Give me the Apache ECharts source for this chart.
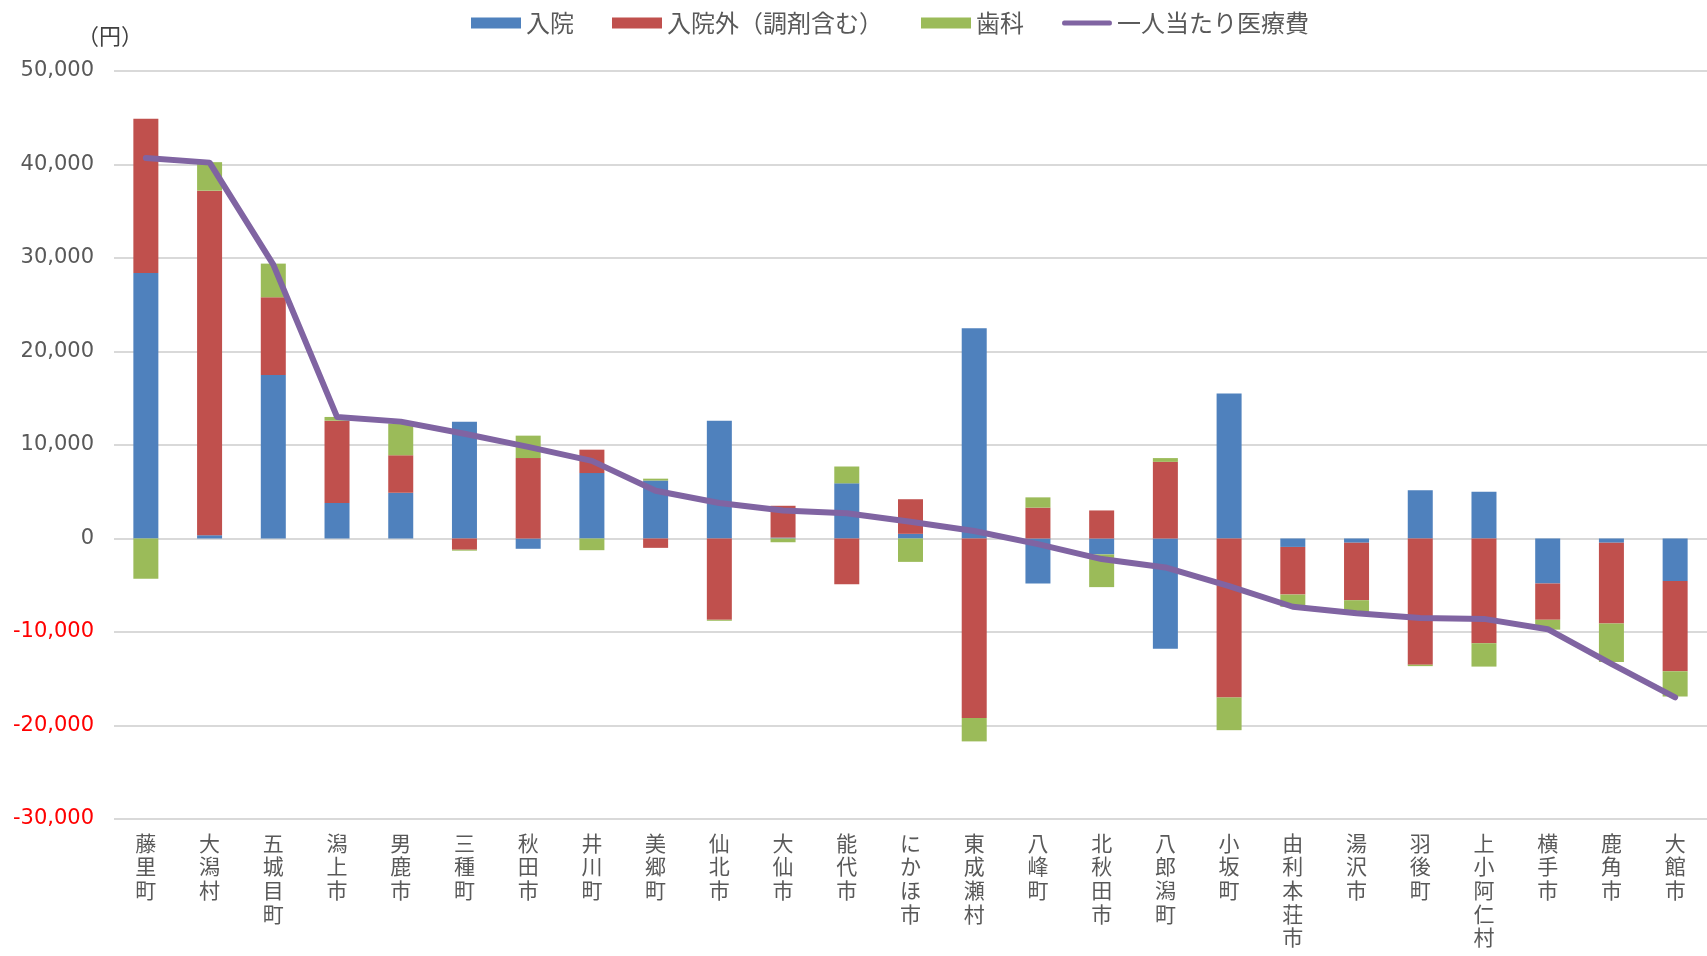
<!DOCTYPE html>
<html>
<head>
<meta charset="utf-8">
<script src="https://cdn.jsdelivr.net/npm/echarts@6/dist/echarts.min.js"></script>
<style>
html, body { margin: 0; padding: 0; background: #fff; }
#chart { width: 1707px; height: 956px; }
</style>
</head>
<body>
<div id="chart"></div>
<script>
// 市町村
const cities = ['藤里町', '大潟村', '五城目町', '潟上市', '男鹿市', '三種町', '秋田市', '井川町', '美郷町', '仙北市',
  '大仙市', '能代市', 'にかほ市', '東成瀬村', '八峰町', '北秋田市', '八郎潟町', '小坂町', '由利本荘市', '湯沢市',
  '羽後町', '上小阿仁村', '横手市', '鹿角市', '大館市']
// 入院
const inpatient = [28400, 350, 17500, 3800, 4900, 12500, -1100, 7000, 6200, 12600,
  100, 5900, 500, 22500, -4800, -1700, -11800, 15500, -900, -450,
  5150, 5000, -4800, -450, -4550]
// 入院外（調剤含む）
const outpatient = [16500, 36850, 8300, 8800, 4000, -1200, 8600, 2500, -1000, -8700,
  3400, -4900, 3700, -19200, 3300, 3000, 8200, -17000, -5100, -6150,
  -13500, -11200, -3900, -8650, -9650]
// 歯科
const dental = [-4300, 3050, 3600, 400, 3400, -100, 2400, -1250, 200, -100,
  -400, 1800, -2500, -2500, 1100, -3500, 400, -3500, -1300, -1250,
  -150, -2500, -1050, -4100, -2700]
// 一人当たり医療費
const perCapita = [40700, 40200, 29300, 13000, 12500, 11200, 9800, 8300, 5100, 3800,
  3000, 2700, 1800, 800, -600, -2200, -3100, -5100, -7300, -8000,
  -8500, -8600, -9700, -13400, -17000]
const yTicks = { min: -30000, max: 50000, interval: 10000 }

const chart = echarts.init(document.getElementById('chart'))
const gray = '#595959'
// 凡例の線アイコン（太線のみ、点なし）
const lineIcon = 'path://M0,0L0.01,0Z M2,3L48,3Q50,3 50,5.5Q50,8 48,8L2,8Q0,8 0,5.5Q0,3 2,3Z M0,11L0.01,11Z'
const option = {
  animation: false,
  color: ['#4F81BD', '#C0504D', '#9BBB59', '#8064A2'],
  legend: {
    left: 466,
    top: 6,
    itemWidth: 50,
    itemHeight: 11,
    itemGap: 38,
    textStyle: { fontSize: 24, color: gray, fontFamily: 'Noto Sans CJK JP' },
    data: [
      { name: '入院', icon: 'rect' },
      { name: '入院外（調剤含む）', icon: 'rect' },
      { name: '歯科', icon: 'rect' },
      { name: '一人当たり医療費', icon: lineIcon }
    ]
  },
  grid: {
    left: 114,
    right: 0,
    top: 71,
    bottom: 137
  },
  xAxis: {
    type: 'category',
    data: cities,
    axisLine: { show: false, onZero: false },
    axisTick: { show: false },
    axisLabel: {
      interval: 0,
      margin: 12,
      fontSize: 21,
      lineHeight: 23.6,
      color: gray,
      fontFamily: 'Noto Sans CJK JP',
      formatter: v => v.split('').join('\n')
    }
  },
  yAxis: {
    type: 'value',
    min: yTicks.min,
    max: yTicks.max,
    interval: yTicks.interval,
    name: '（円）',
    nameLocation: 'end',
    nameGap: 24,
    nameTextStyle: { fontSize: 22, color: '#404040', fontFamily: 'Noto Sans CJK JP', align: 'center', padding: [0, 8, 0, 0] },
    axisLine: { show: false },
    axisTick: { show: false },
    axisLabel: {
      margin: 20,
      fontSize: 21,
      fontFamily: 'DejaVu Sans',
      color: v => (v < 0 ? '#FF0000' : gray),
      formatter: v => v.toLocaleString('en-US')
    },
    splitLine: { lineStyle: { color: '#D9D9D9', width: 2 } }
  },
  series: [
    { name: '入院', type: 'bar', stack: 'cost', barWidth: 25, data: inpatient },
    { name: '入院外（調剤含む）', type: 'bar', stack: 'cost', barWidth: 25, data: outpatient },
    { name: '歯科', type: 'bar', stack: 'cost', barWidth: 25, data: dental },
    {
      name: '一人当たり医療費',
      type: 'line',
      data: perCapita,
      symbol: 'none',
      z: 5,
      lineStyle: { width: 6, color: '#8064A2', cap: 'round', join: 'round' }
    }
  ]
}
chart.setOption(option)
</script>
</body>
</html>
